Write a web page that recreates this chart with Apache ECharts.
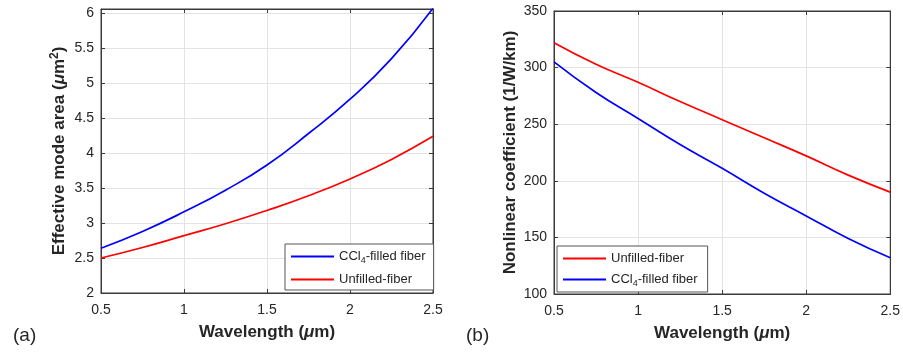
<!DOCTYPE html>
<html><head><meta charset="utf-8">
<script src="https://cdn.jsdelivr.net/npm/echarts@6/dist/echarts.min.js"></script>
<style>html,body{margin:0;padding:0;background:#fff}#c{width:903px;height:354px}</style>
</head><body><div id="c"></div>
<script>
var wavelength = [0.5, 0.75, 1.0, 1.25, 1.5, 1.75, 2.0, 2.25, 2.5];
var areaCCl4 = [2.64, 2.88, 3.16, 3.47, 3.83, 4.28, 4.77, 5.35, 6.07];
var areaUnfilled = [2.50, 2.65, 2.82, 2.99, 3.18, 3.39, 3.63, 3.91, 4.24];
var gammaUnfilled = [322, 303, 287, 270, 254, 238, 222, 205, 190];
var gammaCCl4 = [305, 278, 255, 232, 211, 189, 169, 149, 132];
var xTicks = [0.5, 1, 1.5, 2, 2.5];

function pairs(xs, ys){ return xs.map(function(x,i){return [x, ys[i]];}); }

var FONT = 'Liberation Sans, Arial, sans-serif';
var TXT = '#262626';
var chart = echarts.init(document.getElementById('c'), null, {renderer:'canvas'});

function xAx(idx, pos, show){
  return {type:'value', gridIndex:idx, position:pos, min:0.5, max:2.5, interval:0.5,
    axisLine:{show:true, onZero:false, lineStyle:{color:'#3a3a3a', width:1}},
    axisTick:{show:true, inside:true, length:4, lineStyle:{color:'#3a3a3a'}},
    axisLabel:{show:show, color:TXT, fontSize:14, fontFamily:FONT, margin:10},
    splitLine:{show:show, lineStyle:{color:'#e3e3e3'}},
    name: show ? 'Wavelength ({i|μ}m)' : '', nameLocation:'middle', nameGap:31,
    nameTextStyle:{color:TXT, fontSize:17, fontWeight:'bold', fontFamily:FONT,
      rich:{i:{fontStyle:'italic', fontWeight:'bold', fontSize:17, fontFamily:FONT, color:TXT}}}
  };
}
function yAx(idx, pos, show, min, max, iv, name, gap, step){
  return {type:'value', gridIndex:idx, position:pos, min:min, max:max, interval:iv,
    axisLine:{show:true, onZero:false, lineStyle:{color:'#3a3a3a', width:1}},
    axisTick:{show:true, inside:true, length:4, lineStyle:{color:'#3a3a3a'}},
    axisLabel:{show:show, color:TXT, fontSize:14, fontFamily:FONT, margin:7,
      formatter:function(v){ var r=v/step; return Math.abs(r-Math.round(r))<1e-6 ? String(v) : ''; }},
    splitLine:{show:show, lineStyle:{color:'#e3e3e3'}},
    name: show ? name : '', nameLocation:'middle', nameGap:gap,
    nameTextStyle:{color:TXT, fontSize:17, fontWeight:'bold', fontFamily:FONT,
      rich:{i:{fontStyle:'italic', fontWeight:'bold', fontSize:17, fontFamily:FONT, color:TXT},
            sup:{fontWeight:'bold', fontSize:12, fontFamily:FONT, color:TXT, verticalAlign:'top', padding:[0,0,9,0]}}}
  };
}
var legendRich = {sub:{fontSize:9, fontFamily:FONT, color:TXT, padding:[8,0,0,0]}};
function fmt(n){ return n.replace('CCl4','CCl{sub|4}'); }

chart.setOption({
  animation:false,
  grid:[
    {left:101, right:470, top:9, bottom:61, show:true, borderColor:'#3a3a3a', borderWidth:1},
    {left:554, right:12, top:11, bottom:60, show:true, borderColor:'#3a3a3a', borderWidth:1}
  ],
  xAxis:[xAx(0,'bottom',true), xAx(0,'top',false), xAx(1,'bottom',true), xAx(1,'top',false)],
  yAxis:[
    yAx(0,'left',true,2,6.06,0.5,'Effective mode area ({i|μ}m{sup|2})',31,0.5),
    yAx(0,'right',false,2,6.06,0.5,'',0,0.5),
    yAx(1,'left',true,100,350,50,'Nonlinear coefficient (1/W/km)',35,50),
    yAx(1,'right',false,100,350,50,'',0,50)
  ],
  legend:[
    {data:['CCl4-filled fiber','Unfilled-fiber'], orient:'vertical', left:285, top:244,
     icon:'rect', itemWidth:43, itemHeight:2, itemGap:8, padding:[6,8,4,6],
     borderColor:'#555', borderWidth:1, backgroundColor:'#fff', formatter:fmt,
     textStyle:{color:TXT, fontSize:13, fontFamily:FONT, rich:legendRich}},
    {data:['Unfilled-fiber ','CCl4-filled fiber '], orient:'vertical', left:557, top:246,
     icon:'rect', itemWidth:43, itemHeight:2, itemGap:8, padding:[6,10,4,6],
     borderColor:'#555', borderWidth:1, backgroundColor:'#fff', formatter:function(n){return fmt(n.trim());},
     textStyle:{color:TXT, fontSize:13, fontFamily:FONT, rich:legendRich}}
  ],
  graphic:[
    {type:'text', left:13, top:326, style:{text:'(a)', fontSize:19, fontFamily:FONT, fill:TXT}},
    {type:'text', left:466, top:326, style:{text:'(b)', fontSize:19, fontFamily:FONT, fill:TXT}}
  ],
  series:[
    {name:'CCl4-filled fiber', type:'line', xAxisIndex:0, yAxisIndex:0, data:pairs(wavelength, areaCCl4),
     smooth:true, symbol:'none', lineStyle:{color:'#0000ff', width:1.7}, itemStyle:{color:'#0000ff'}},
    {name:'Unfilled-fiber', type:'line', xAxisIndex:0, yAxisIndex:0, data:pairs(wavelength, areaUnfilled),
     smooth:true, symbol:'none', lineStyle:{color:'#ff0000', width:1.7}, itemStyle:{color:'#ff0000'}},
    {name:'Unfilled-fiber ', type:'line', xAxisIndex:2, yAxisIndex:2, data:pairs(wavelength, gammaUnfilled),
     smooth:true, symbol:'none', lineStyle:{color:'#ff0000', width:1.7}, itemStyle:{color:'#ff0000'}},
    {name:'CCl4-filled fiber ', type:'line', xAxisIndex:2, yAxisIndex:2, data:pairs(wavelength, gammaCCl4),
     smooth:true, symbol:'none', lineStyle:{color:'#0000ff', width:1.7}, itemStyle:{color:'#0000ff'}}
  ]
});
</script></body></html>
